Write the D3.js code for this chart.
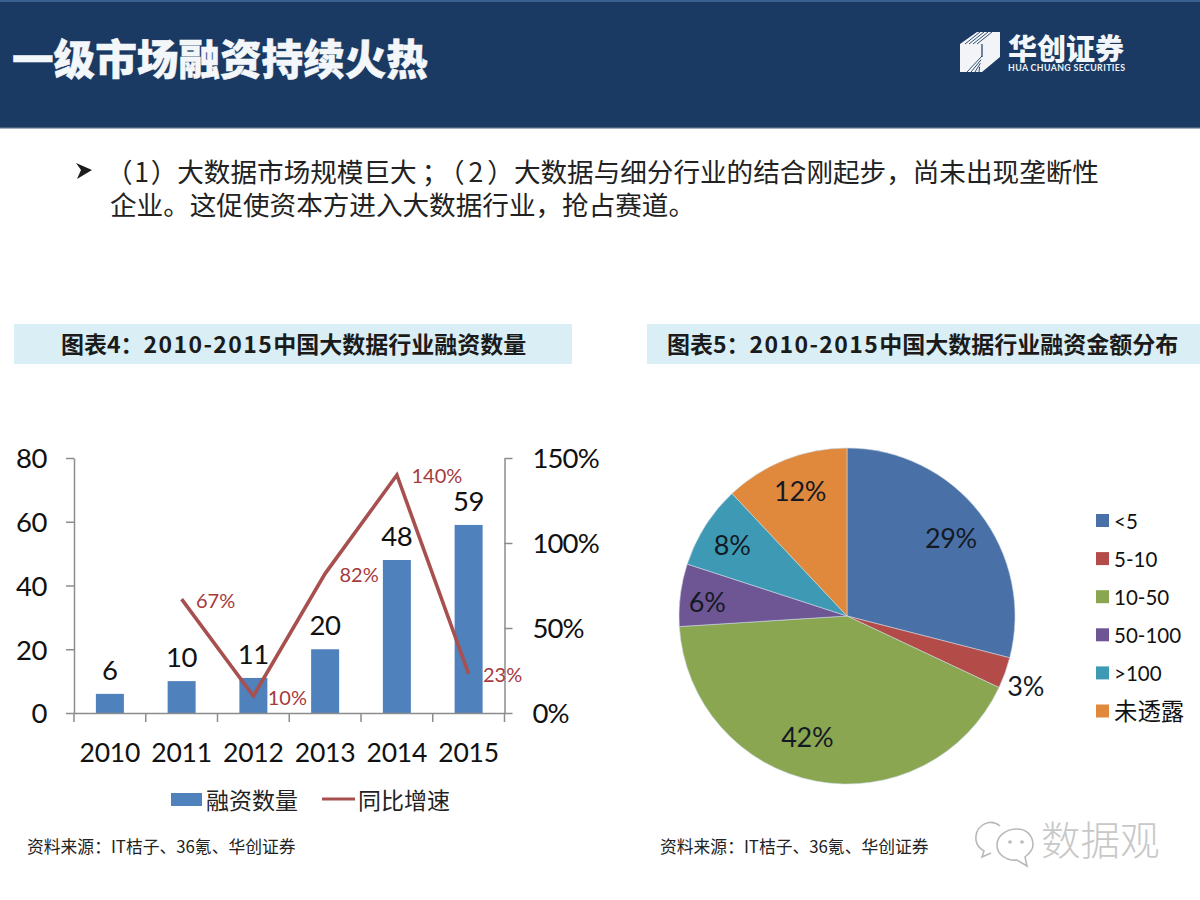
<!DOCTYPE html>
<html><head><meta charset="utf-8">
<script src="https://cdn.jsdelivr.net/npm/d3@7/dist/d3.min.js"></script>
<style>
html,body{margin:0;padding:0;background:#fff}
svg{display:block}
text{font-family:"Lato","Noto Sans CJK SC",sans-serif}
.cjk{font-family:"Noto Sans CJK SC",sans-serif}
</style></head><body>
<svg id="c" width="1200" height="900"></svg>
<script>
const years=["2010","2011","2012","2013","2014","2015"];
const counts=[6,10,11,20,48,59];
const growthYears=["2011","2012","2013","2014","2015"];
const growth=[67,10,82,140,23];
const countTicks=[0,20,40,60,80];
const growthTicks=[0,50,100,150];
const pieNames=["<5","5-10","10-50","50-100",">100","未透露"];
const pieValues=[29,3,42,6,8,12];
const pieColors=["#4971a8","#b34c49","#8aa650","#6e5593","#3e9ab4","#e0883c"];
const titleText="一级市场融资持续火热";
const bullet1Parts=["（\u200A1\u200A）大数据市场规模巨大","；","（","2","）","大数据与细分行业的结合刚起步，尚未出现垄断性"];
const bullet2="企业。这促使资本方进入大数据行业，抢占赛道。";
const chartTitles=[["图表4：","2010-2015","中国大数据行业融资数量"],["图表5：","2010-2015","中国大数据行业融资金额分布"]];
const sourceText="资料来源：IT桔子、36氪、华创证券";

const svg=d3.select("#c");
const txt=(x,y,s,size,fill,anchor="start",cls="")=>svg.append("text").attr("x",x).attr("y",y).attr("font-size",size).attr("fill",fill).attr("text-anchor",anchor).attr("dominant-baseline","central").attr("class",cls).text(s);

// header
svg.append("rect").attr("width",1200).attr("height",128).attr("fill","#1a3a63");
svg.append("rect").attr("width",1200).attr("height",2).attr("fill","#3a6290");
svg.append("rect").attr("y",127).attr("width",1200).attr("height",1.5).attr("fill","#47607f");
txt(12,57,titleText,41.6,"#f4f7fa","start","cjk").attr("font-weight",900).attr("stroke","#f4f7fa").attr("stroke-width",0.5);

// logo
svg.append("path").attr("d","M960 44L977 32L1000 32L1000 57L982 72L960 72Z").attr("fill","#f2f4f7");
const stripes=svg.append("g").attr("stroke","#1a3a63").attr("stroke-width",0.9).attr("fill","none");
[0,4,8,12].forEach(o=>{stripes.append("path").attr("d",`M${965+o} 44L${980+o} 32`);stripes.append("path").attr("d",`M${982-o*0.2} ${57+o*0.9-1}L${967+o} 72`);});
stripes.append("path").attr("d","M982 44V57").attr("stroke-width",1.2);
txt(1008,47,"华创证券",29,"#f4f7fa","start","cjk").attr("font-weight",900);
txt(1008,67.5,"HUA CHUANG SECURITIES",8.8,"#eef2f6").attr("font-weight",700).attr("font-family","'Open Sans',sans-serif").attr("textLength",117);

// bullet
svg.append("path").attr("d","M76 163L92 170L77 179L81 170Z").attr("fill","#1c1c1c");
const b1=txt(106,170,"",26.6,"#222","start","cjk");
const b1Gap=[0,5,3,4,4,0];
bullet1Parts.forEach((p,i)=>b1.append("tspan").attr("dx",b1Gap[i]).text(p));
txt(110,203,bullet2,26.6,"#222","start","cjk");

// chart title bands
[[14,558,61],[647,553,667]].forEach((b,i)=>{
  svg.append("rect").attr("x",b[0]).attr("y",324).attr("width",b[1]).attr("height",40).attr("fill","#daeef5");
  const t=txt(b[2],343,"",23,"#1b1b1b","start","cjk").attr("font-weight",700);
  chartTitles[i].forEach((p,j)=>{const s=t.append("tspan").text(p); if(j==1) s.attr("letter-spacing",1.4);});
});

// left chart
const L=74,R=504.5,T=458,B=713;
const x=d3.scaleBand().domain(years).range([L,R]);
const yL=d3.scaleLinear().domain([0,80]).range([B,T]);
const yR=d3.scaleLinear().domain([0,150]).range([B,T]);
const axisCol="#8c8c8c";
const styleAxis=(g,size,ls)=>{g.select(".domain").attr("stroke",axisCol).attr("stroke-width",1.5);g.selectAll(".tick line").attr("stroke",axisCol).attr("stroke-width",1.5);g.selectAll("text").attr("font-size",size).attr("fill","#111").attr("font-family","Lato").attr("letter-spacing",ls).attr("dy","0.36em");};

const gl=svg.append("g").attr("transform",`translate(${L},0)`).call(d3.axisLeft(yL).tickValues(countTicks).tickSize(8).tickPadding(19).tickSizeOuter(0));
styleAxis(gl,27.5,-0.4);
const gr=svg.append("g").attr("transform",`translate(${R},0)`).call(d3.axisRight(yR).tickValues(growthTicks).tickSize(8).tickPadding(20).tickSizeOuter(0).tickFormat(d=>d+"%"));
styleAxis(gr,27.5,-0.9);

svg.append("g").selectAll("rect").data(counts).join("rect")
 .attr("x",(d,i)=>x(years[i])+x.bandwidth()/2-14).attr("width",28)
 .attr("y",d=>yL(d)).attr("height",d=>B-yL(d)).attr("fill","#4f81bd");

const gx=svg.append("g").attr("transform",`translate(0,${B})`).call(d3.axisBottom(x).tickSize(0).tickPadding(39).tickSizeOuter(0));
styleAxis(gx,26.5,-0.2);
gx.selectAll(".tick text").attr("dy",0).attr("dominant-baseline","central");
svg.append("g").selectAll("line").data(d3.range(years.length+1)).join("line")
 .attr("x1",i=>L+i*x.step()).attr("x2",i=>L+i*x.step()).attr("y1",B).attr("y2",B+9).attr("stroke",axisCol).attr("stroke-width",1.5);

const line=d3.line().x((d,i)=>x(growthYears[i])+x.bandwidth()/2).y(d=>yR(d));
svg.append("path").datum(growth).attr("d",line).attr("fill","none").attr("stroke","#a8504f").attr("stroke-width",3.6).attr("stroke-linejoin","miter");

svg.append("g").selectAll("text").data(counts).join("text")
 .attr("x",(d,i)=>x(years[i])+x.bandwidth()/2).attr("y",d=>yL(d)-24.5).attr("text-anchor","middle").attr("dominant-baseline","central")
 .attr("font-size",27.5).attr("letter-spacing",-0.4).attr("fill","#111").text(d=>d);

const gOff=[[34,1],[34,1],[34,0],[40,0],[34,0]];
svg.append("g").selectAll("text").data(growth).join("text")
 .attr("x",(d,i)=>x(growthYears[i])+x.bandwidth()/2+gOff[i][0]).attr("y",(d,i)=>yR(d)+gOff[i][1])
 .attr("text-anchor","middle").attr("dominant-baseline","central").attr("font-size",20).attr("fill","#a63a3e").text(d=>d+"%");

// left legend
svg.append("rect").attr("x",171).attr("y",793).attr("width",31).attr("height",13).attr("fill","#4f81bd");
txt(206,798.5,"融资数量",23,"#222","start","cjk");
svg.append("line").attr("x1",322).attr("x2",355).attr("y1",799).attr("y2",799).attr("stroke","#a8504f").attr("stroke-width",3);
txt(358,798.5,"同比增速",23,"#222","start","cjk");
txt(27,846,sourceText,16.8,"#222","start","cjk");

// pie
const cx=847,cy=616,rad=168;
const pie=d3.pie().sort(null)(pieValues);
const arc=d3.arc().innerRadius(0).outerRadius(rad);
const gp=svg.append("g").attr("transform",`translate(${cx},${cy})`);
gp.selectAll("path").data(pie).join("path").attr("d",arc).attr("fill",(d,i)=>pieColors[i]).attr("stroke","#c9d6e2").attr("stroke-width",0.6);
const labelR=[129,191,127,141,136,133];
const nudge=[[2,1],[-1,5],[-16,-4],[0,3],[0,1],[2,-2]];
gp.selectAll("text").data(pie).join("text").attr("text-anchor","middle").attr("dominant-baseline","central").attr("font-size",27).attr("letter-spacing",-0.3).attr("fill","#141a24")
 .attr("x",(d,i)=>labelR[i]*Math.sin((d.startAngle+d.endAngle)/2)+nudge[i][0])
 .attr("y",(d,i)=>-labelR[i]*Math.cos((d.startAngle+d.endAngle)/2)+nudge[i][1])
 .text(d=>d.value+"%");

// pie legend
const leg=svg.append("g");
pieNames.forEach((n,i)=>{
  const y=520.5+i*38.1;
  leg.append("rect").attr("x",1096).attr("y",y-6.5).attr("width",13).attr("height",13).attr("fill",pieColors[i]);
  leg.append("text").attr("x",1114).attr("y",y).attr("dominant-baseline","central").attr("font-size",i==5?23.4:20.5).attr("fill","#111").text(n);
});
txt(660,846,sourceText,16.8,"#222","start","cjk");

// watermark
const wm=svg.append("g").attr("fill","none").attr("stroke","#b9b9b9").attr("stroke-width",1.6);
wm.append("path").attr("d","M1000 826C990 818 977 825 976 836C975 844 980 849 984 851L982 857L991 853");
wm.append("path").attr("d","M1017 829C1006 829 997 836 997 845C997 855 1007 861 1017 860L1027 866L1025 857C1030 853 1033 850 1033 845C1033 836 1027 829 1017 829Z");
wm.append("circle").attr("cx",1010).attr("cy",842).attr("r",1).attr("fill","#b9b9b9");
wm.append("circle").attr("cx",1022).attr("cy",842).attr("r",1).attr("fill","#b9b9b9");
txt(1041,837,"数据观",39.5,"#c8c8c8","start","cjk").attr("font-weight",300);
</script>
</body></html>
